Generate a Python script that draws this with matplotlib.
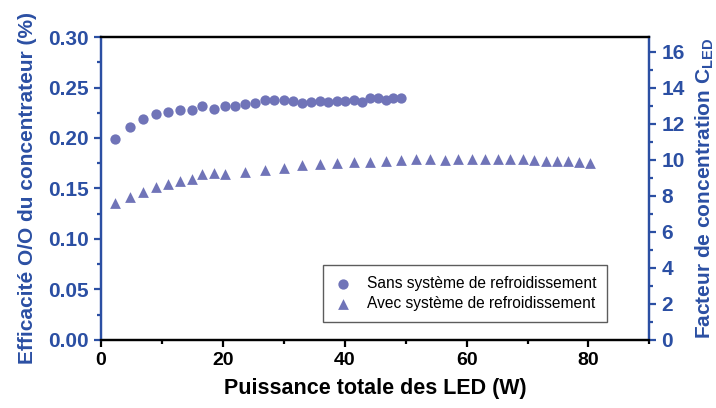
import matplotlib.pyplot as plt
from matplotlib.ticker import MultipleLocator, FormatStrFormatter

plt.rcParams['font.family'] = ['Liberation Sans', 'DejaVu Sans']
plt.rcParams['font.weight'] = 'bold'
plt.rcParams['mathtext.fontset'] = 'custom'
plt.rcParams['mathtext.rm'] = 'Liberation Sans:bold'

# sans refroidissement : efficacite O/O (%)
p_sans = [2.3, 4.75, 6.95, 9.0, 11.0, 12.95, 14.9, 16.5, 18.5, 20.3,
          22.0, 23.6, 25.25, 26.9, 28.4, 30.0, 31.5, 33.0, 34.5, 35.9,
          37.3, 38.7, 40.1, 41.5, 42.8, 44.1, 45.5, 46.7, 47.9, 49.2]
eff_sans = [0.199, 0.211, 0.219, 0.224, 0.226, 0.228, 0.228, 0.232, 0.229, 0.232,
            0.232, 0.234, 0.235, 0.238, 0.238, 0.238, 0.237, 0.235, 0.236, 0.237,
            0.236, 0.237, 0.237, 0.238, 0.236, 0.240, 0.240, 0.238, 0.240, 0.240]

# avec refroidissement : facteur de concentration C_LED
p_avec = [2.3, 4.75, 6.95, 9.0, 11.0, 12.95, 14.9, 16.5, 18.5, 20.3,
          23.6, 26.9, 30.0, 33.0, 35.9, 38.7, 41.5, 44.1, 46.7, 49.2,
          51.7, 54.0, 56.4, 58.6, 60.9, 63.0, 65.1, 67.2, 69.2, 71.1,
          73.0, 74.9, 76.7, 78.5, 80.2]
c_avec = [7.63, 7.96, 8.20, 8.48, 8.69, 8.81, 8.94, 9.20, 9.26, 9.20,
          9.33, 9.44, 9.54, 9.72, 9.78, 9.81, 9.87, 9.91, 9.93, 10.00,
          10.04, 10.04, 10.00, 10.06, 10.06, 10.06, 10.06, 10.04, 10.04, 10.00,
          9.96, 9.96, 9.96, 9.91, 9.85]

blue = '#2b4fa3'
mark = '#7074b8'

fig = plt.figure(figsize=(7.16, 4.08), dpi=100)
ax = fig.add_axes([0.141, 0.1667, 0.766, 0.7426])
ax2 = ax.twinx()

h1 = ax.scatter(p_sans, eff_sans, s=55, marker='o', color=mark, linewidths=0,
                label='Sans système de refroidissement', zorder=3)
h2 = ax2.scatter(p_avec, c_avec, s=60, marker='^', color=mark, linewidths=0,
                 label='Avec système de refroidissement', zorder=3)

ax.set_xlim(0, 90)
ax.set_ylim(0, 0.30)
ax2.set_ylim(0, 16.83)

ax.xaxis.set_major_locator(MultipleLocator(20))
ax.xaxis.set_minor_locator(MultipleLocator(10))
ax.yaxis.set_major_locator(MultipleLocator(0.05))
ax.yaxis.set_minor_locator(MultipleLocator(0.025))
ax.yaxis.set_major_formatter(FormatStrFormatter('%.2f'))
ax2.yaxis.set_major_locator(MultipleLocator(2))
ax2.yaxis.set_minor_locator(MultipleLocator(1))

for a in (ax, ax2):
    for s in a.spines.values():
        s.set_linewidth(1.6)
    a.spines['left'].set_color(blue)
    a.spines['right'].set_color(blue)
    a.spines['top'].set_color('black')
    a.spines['bottom'].set_color('black')

ax.tick_params(axis='x', which='major', direction='out', length=5, width=1.6,
               labelsize=14, pad=4)
ax.tick_params(axis='x', which='minor', direction='out', length=3, width=1.6)
ax.tick_params(axis='y', which='both', colors=blue, width=1.6, labelsize=15)
ax.tick_params(axis='y', which='major', length=5)
ax.tick_params(axis='y', which='minor', length=3)
ax2.tick_params(axis='y', which='both', colors=blue, width=1.6, labelsize=15)
ax2.tick_params(axis='y', which='major', length=5)
ax2.tick_params(axis='y', which='minor', length=3)

ax.set_xlabel('Puissance totale des LED (W)', fontsize=15.5, fontweight='bold', labelpad=6)
ax.set_ylabel('Efficacité O/O du concentrateur (%)', fontsize=15, fontweight='bold',
              color=blue, labelpad=8)
ax2.set_ylabel(r'Facteur de concentration C$_{\rm LED}$', fontsize=15, fontweight='bold',
               color=blue, rotation=90, labelpad=6)

leg = ax.legend(handles=[h1, h2], loc='lower left', bbox_to_anchor=(0.405, 0.06),
                borderaxespad=0, fontsize=11.2, frameon=True, fancybox=False,
                edgecolor='#333333', handlelength=1.2, handletextpad=0.9,
                borderpad=0.7, labelspacing=0.3)
leg.get_frame().set_linewidth(1.0)
for t in leg.get_texts():
    t.set_fontweight('normal')

fig.savefig('out.png', dpi=100)
